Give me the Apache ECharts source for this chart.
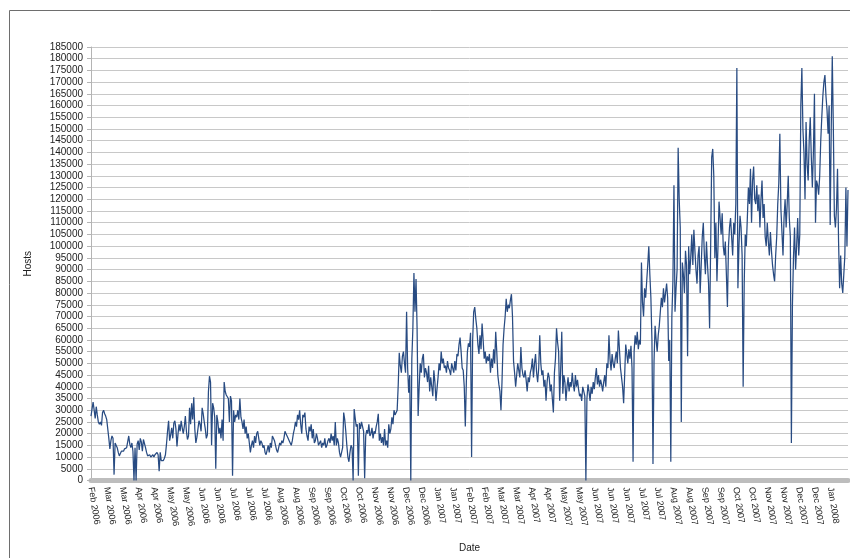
<!DOCTYPE html>
<html>
<head>
<meta charset="utf-8">
<title>Hosts per day</title>
<script src="https://cdn.jsdelivr.net/npm/echarts@6/dist/echarts.min.js"></script>
<style>
  html, body { margin: 0; padding: 0; background: #ffffff; }
  #chart { width: 850px; height: 558px; }
</style>
</head>
<body>
<div id="chart"></div>
<script>
// Daily host counts, one value per day starting mid-February 2006
const hosts = [
  27500, 30500, 33500, 30000, 26500, 31500, 28000, 25000, 24000, 25000,
  23500, 29000, 30000, 28500, 27500, 26000, 22000, 18000, 13500, 17000,
  19000, 18000, 2500, 16000, 15500, 14000, 12000, 10500, 11500, 12500,
  13000, 12500, 13500, 13000, 14000, 14500, 19000, 15500, 14000, 16000,
  12500, 0, 14000, 0, 15500, 17000, 13000, 18000, 16500, 12500,
  17500, 18000, 14000, 12000, 10500, 10000, 11000, 10000, 10500, 11000,
  10000, 11000, 11500, 12000, 11000, 4000, 12000, 8500, 9000, 8500,
  9500, 11000, 15500, 21000, 25500, 17000, 19500, 22500, 18000, 24500,
  25500, 22000, 14500, 20000, 24000, 21000, 25500, 22500, 20000, 23000,
  27500, 21000, 17500, 19000, 31000, 24000, 33000, 26000, 35500, 22000,
  16000, 18500, 22000, 25500, 24000, 21000, 31000, 28500, 25000, 22000,
  18000, 19500, 38000, 44500, 42000, 15000, 33000, 31000, 27000, 5000,
  28000, 25000, 20000, 22500, 18000, 26000, 17000, 42000, 38000, 36500,
  37000, 35000, 25000, 36000, 34000, 2000, 30000, 25000, 28000, 27000,
  30000, 26000, 35000, 27000, 25000, 22000, 26000, 20000, 23000, 18000,
  20000, 16000, 12000, 15000, 17000, 14000, 19000, 16000, 20000, 21000,
  18000, 15000, 17000, 16000, 14000, 15000, 12000, 11000, 13000, 15000,
  12000, 16000, 14000, 19000, 18000, 17000, 15000, 13000, 12000, 14000,
  16000, 15000, 17000, 16000, 18000, 21000, 20000, 19000, 18000, 17000,
  16000, 15000, 17000, 20000, 22000, 25000, 23000, 28000, 26000, 30000,
  24000, 20000, 28000, 27000, 29000, 22000, 19000, 17000, 23000, 21000,
  24000, 18000, 22000, 16000, 17000, 20000, 18000, 15000, 15000, 17000,
  14000, 16000, 15000, 18000, 14000, 15000, 17000, 18000, 16000, 20000,
  17000, 19000, 15000, 25000, 15000, 18000, 16000, 12000, 10000, 12000,
  14000, 29000, 26000, 21000, 15000, 10000, 8000, 12000, 15000, 14000,
  0, 30500, 26500, 23000, 24000, 2000, 24500, 22000, 25000, 23000,
  21000, 1000, 19000, 21500, 20000, 24000, 19000, 20000, 22500, 18000,
  21000, 20000, 23000, 25000, 28500, 17000, 20000, 16000, 18500, 15000,
  22000, 15000, 17000, 14000, 24000, 20000, 22000, 27000, 24000, 30000,
  28000, 27500, 30000, 40500, 54500, 49000, 46000, 53000, 55000, 50000,
  46000, 72000, 48000, 37500, 45000, 0, 52000, 65000, 88500, 72000,
  86000, 65000, 27500, 40000, 50000, 46000, 52000, 54000, 44000, 48000,
  46000, 42000, 49000, 38000, 44000, 40000, 36000, 47000, 42000, 34000,
  39000, 44000, 50000, 47000, 55000, 50000, 52000, 48000, 49000, 46000,
  51000, 48000, 47000, 45000, 50000, 48000, 46000, 51000, 47000, 54000,
  53000, 58000, 61000, 55000, 48000, 47000, 40000, 23000, 42000, 55000,
  58500, 57000, 63000, 10000, 60000, 72000, 74000, 69000, 65000, 58000,
  54000, 62000, 56000, 67000, 60000, 52000, 55000, 50000, 53000, 51000,
  54000, 46000, 52000, 48000, 56000, 50000, 63500, 55000, 45000, 41000,
  38000, 30000, 42000, 58000, 65000, 70000, 77500, 72000, 75000, 73500,
  77000, 79500, 70000, 51000, 46000, 40000, 45000, 50000, 47000, 44000,
  57000, 48000, 45000, 44000, 47000, 43000, 38000, 44000, 42000, 46000,
  48000, 52000, 44000, 50000, 54000, 46000, 42000, 48000, 62000, 50000,
  45000, 47000, 40000, 43000, 34000, 42000, 46000, 44000, 38000, 41000,
  35000, 29000, 46000, 52000, 65000, 59000, 55000, 34000, 48000, 63500,
  37000, 45000, 42000, 34000, 40000, 44000, 38000, 42000, 40000, 46000,
  41000, 38000, 45000, 40000, 43000, 39000, 36000, 37000, 34000, 40000,
  38000, 36000, 0, 35000, 41000, 38000, 34000, 40000, 37000, 42000,
  39000, 44000, 48000, 41000, 45000, 40000, 43000, 41000, 38000, 42000,
  45000, 40000, 50000, 48000, 62000, 52000, 47000, 54000, 50000, 48000,
  52000, 55000, 50000, 64000, 56000, 48000, 44000, 40000, 33000, 45000,
  58000, 54000, 50000, 56000, 52000, 57500, 48000, 8000, 55000, 62000,
  58000, 63500, 56000, 60000, 58000, 93000, 76000, 70000, 82000, 78000,
  85000, 92000, 100000, 88000, 78000, 60000, 7000, 51000, 66000, 60000,
  55000, 62000, 66000, 72000, 78000, 74000, 82000, 76000, 80000, 84000,
  78000, 51000, 60000, 8000, 70000, 85000, 126000, 72000, 82000, 90000,
  142000, 120000, 108000, 25000, 93000, 88000, 80000, 98000, 92000, 53000,
  100000, 88000, 95000, 105000, 92000, 107000, 98000, 90000, 84000, 96000,
  100000, 80000, 92000, 104000, 110000, 96000, 88000, 102000, 92000, 84000,
  65000, 100000, 138000, 141500, 130000, 95000, 110000, 85000, 100000, 119000,
  112000, 105000, 114000, 100000, 96000, 102000, 88000, 74000, 100000, 108000,
  112000, 104000, 96000, 110000, 105000, 118000, 176000, 82000, 100000, 113000,
  108000, 96000, 40000, 84000, 105000, 100000, 112000, 125000, 118000, 133000,
  110000, 128000, 134000, 120000, 118000, 126000, 115000, 122000, 108000, 120000,
  128000, 112000, 118000, 104000, 100000, 110000, 102000, 96000, 106000, 98000,
  92000, 88000, 85000, 96000, 104000, 118000, 127000, 148000, 116000, 106000,
  96000, 112000, 120000, 108000, 118000, 130000, 112000, 104000, 16000, 75000,
  95000, 108000, 90000, 100000, 112000, 96000, 105000, 160000, 176000, 150000,
  140000, 120000, 153000, 135000, 128000, 145000, 155000, 138000, 125000, 140000,
  165000, 110000, 128000, 126000, 122000, 130000, 145000, 155000, 164000, 170000,
  173000, 164000, 158000, 148000, 160000, 109000, 150000, 181000, 151000, 113000,
  108000, 116000, 133000, 102000, 82000, 96000, 84000, 80000, 88000, 96000,
  125000, 100000, 124000
];

// Month labels shown every 15th day along the date axis
const tickLabels = [
  'Feb 2006', 'Mar 2006', 'Mar 2006', 'Apr 2006', 'Apr 2006', 'May 2006', 'May 2006',
  'Jun 2006', 'Jun 2006', 'Jul 2006', 'Jul 2006', 'Jul 2006', 'Aug 2006', 'Aug 2006',
  'Sep 2006', 'Sep 2006', 'Oct 2006', 'Oct 2006', 'Nov 2006', 'Nov 2006', 'Dec 2006',
  'Dec 2006', 'Jan 2007', 'Jan 2007', 'Feb 2007', 'Feb 2007', 'Mar 2007', 'Mar 2007',
  'Apr 2007', 'Apr 2007', 'May 2007', 'May 2007', 'Jun 2007', 'Jun 2007', 'Jun 2007',
  'Jul 2007', 'Jul 2007', 'Aug 2007', 'Aug 2007', 'Sep 2007', 'Sep 2007', 'Oct 2007',
  'Oct 2007', 'Nov 2007', 'Nov 2007', 'Dec 2007', 'Dec 2007', 'Jan 2008'
];
const labelStep = 15;

// One category per day
const categories = hosts.map((_, i) => String(i));

const FONT = '"Liberation Sans", Arial, sans-serif';

const chart = echarts.init(document.getElementById('chart'), null, { renderer: 'canvas' });

chart.setOption({
  animation: false,
  backgroundColor: '#ffffff',
  textStyle: { fontFamily: FONT },
  graphic: [
    {
      type: 'rect',
      shape: { x: 9.5, y: 10.5, width: 900, height: 700 },
      style: { fill: 'none', stroke: '#6e6e6e', lineWidth: 1 },
      silent: true,
      z: -10
    }
  ],
  grid: { left: 91, top: 47, width: 757, height: 437, containLabel: false },
  xAxis: {
    type: 'category',
    data: categories,
    boundaryGap: false,
    offset: 2.5,
    name: 'Date',
    nameLocation: 'middle',
    nameGap: 60,
    nameTextStyle: { fontFamily: FONT, fontSize: 10, color: '#222' },
    axisLine: { show: true, lineStyle: { color: '#bdbdbd', width: 5 } },
    axisTick: { show: false },
    splitLine: { show: false },
    axisLabel: {
      interval: labelStep - 1,
      rotate: -81,
      margin: 4,
      fontFamily: FONT,
      fontSize: 9,
      color: '#222',
      formatter: (value, index) => tickLabels[Math.round(index / labelStep)] || ''
    }
  },
  yAxis: {
    type: 'value',
    min: 0,
    max: 185000,
    interval: 5000,
    name: 'Hosts',
    nameLocation: 'middle',
    nameGap: 58,
    nameRotate: 90,
    nameTextStyle: { fontFamily: FONT, fontSize: 10, color: '#222' },
    axisLine: { show: true, lineStyle: { color: '#b4b4b4', width: 1 } },
    axisTick: { show: true, length: 4, lineStyle: { color: '#b4b4b4' } },
    splitLine: { show: true, lineStyle: { color: '#c8c8c8', width: 1 } },
    axisLabel: {
      margin: 8,
      fontFamily: FONT,
      fontSize: 10,
      color: '#222',
      formatter: (value) => String(value)
    }
  },
  series: [
    {
      type: 'line',
      name: 'Hosts',
      data: hosts,
      showSymbol: false,
      symbol: 'none',
      sampling: null,
      lineStyle: { color: '#284b82', width: 1.25 },
      z: 3
    }
  ]
});
</script>
</body>
</html>
